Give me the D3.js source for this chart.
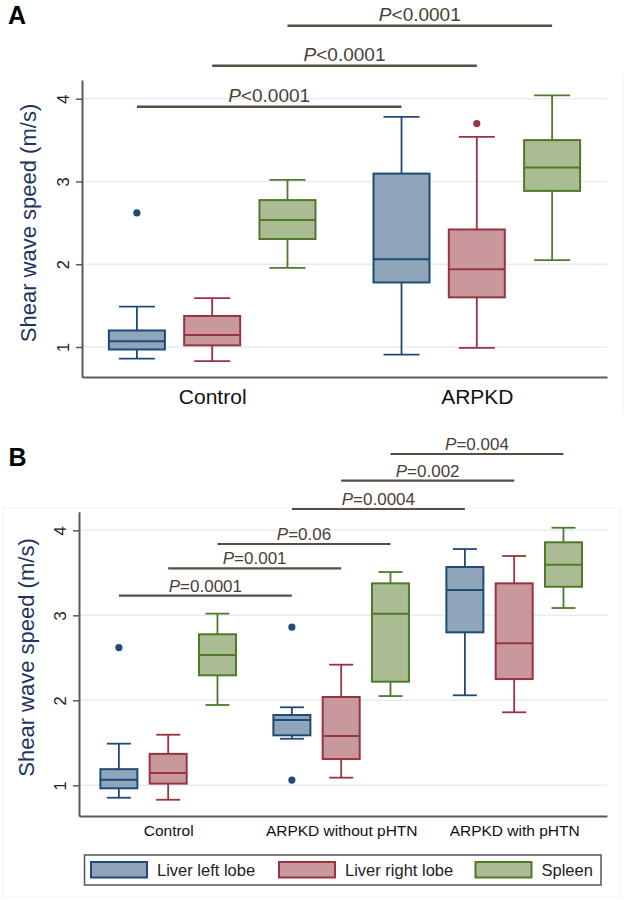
<!DOCTYPE html>
<html><head><meta charset="utf-8">
<script src="https://cdn.jsdelivr.net/npm/d3@7"></script>
<style>
body{margin:0;background:#fff}
svg{display:block;font-family:"Liberation Sans",Arial,sans-serif}
</style>
</head><body>
<svg id="c" width="625" height="900"></svg>
<script>
// ---------- data ----------
const series = ["Liver left lobe", "Liver right lobe", "Spleen"];
const yTicks = [1, 2, 3, 4];

// Panel A (rows = series, columns = groups)
const groupsA = ["Control", "ARPKD"];
const aMin = [[0.86, 0.907], [0.83, 0.99], [1.955, 2.05]];
const aQ1  = [[0.97, 1.78], [1.02, 1.60], [2.305, 2.886]];
const aMed = [[1.07, 2.06], [1.145, 1.94], [2.535, 3.17]];
const aQ3  = [[1.20, 3.095], [1.375, 2.42], [2.775, 3.50]];
const aMax = [[1.487, 3.78], [1.59, 3.54], [3.02, 4.04]];
const aOut = [[[2.62], []], [[], [3.70]], [[], []]];
const aCompSeries = [0, 1, 2];
const aCompFrom = [0, 0, 0];
const aCompTo = [1, 1, 1];
const aCompY = [3.903, 4.399, 4.882];
const aCompOp = ["<", "<", "<"];
const aCompP = ["0.0001", "0.0001", "0.0001"];

// Panel B
const groupsB = ["Control", "ARPKD without pHTN", "ARPKD with pHTN"];
const bMin = [[0.854, 1.548, 2.059], [0.83, 1.09, 1.859], [1.945, 2.05, 3.086]];
const bQ1  = [[0.965, 1.588, 2.80], [1.02, 1.309, 2.25], [2.294, 2.219, 3.336]];
const bMed = [[1.066, 1.768, 3.298], [1.145, 1.58, 2.67], [2.533, 3.019, 3.595]];
const bQ3  = [[1.19, 1.827, 3.568], [1.37, 2.039, 3.376], [2.777, 3.376, 3.859]];
const bMax = [[1.49, 1.918, 3.78], [1.595, 2.419, 3.698], [3.02, 3.509, 4.03]];
const bOut = [[[2.62], [2.862, 1.062], []], [[], [], []], [[], [], []]];
const bCompSeries = [0, 1, 2, 0, 1, 2];
const bCompFrom = [0, 0, 0, 1, 1, 1];
const bCompTo = [1, 1, 1, 2, 2, 2];
const bCompY = [3.231, 3.553, 3.839, 4.251, 4.584, 4.898];
const bCompOp = ["=", "=", "=", "=", "=", "="];
const bCompP = ["0.0001", "0.001", "0.06", "0.0004", "0.002", "0.004"];

// ---------- style ----------
const fills = ["#8fa5ba", "#c9989c", "#abbb94"];
const strokes = ["#1f4a78", "#983440", "#4e7a2a"];
const barColor = "#594d42";
const pTextColor = "#4a4038";

const svg = d3.select("#c");

// faint panel frames
svg.append("line").attr("x1", 623).attr("x2", 623).attr("y1", 73).attr("y2", 414)
  .attr("stroke", "#f1f3f5").attr("stroke-width", 1.2);
svg.append("rect").attr("x", 3).attr("y", 508).attr("width", 617).attr("height", 389)
  .attr("fill", "none").attr("stroke", "#f2f4f6").attr("stroke-width", 1.2);

function panel(o) {
  const g = svg.append("g");
  const x = d3.scalePoint().domain(o.groups).range([o.x0, o.x1]).padding(o.pad).align(o.align);
  const s = d3.scalePoint().domain(series).range([-o.off, o.off]);
  const y = d3.scaleLinear().domain(o.dom).range([o.yBot, o.yTop]);

  // gridlines
  g.append("g").selectAll("line").data(yTicks).join("line")
    .attr("x1", o.x0).attr("x2", o.x1)
    .attr("y1", d => y(d)).attr("y2", d => y(d))
    .attr("stroke", "#e5edf2").attr("stroke-width", 1.6);

  // y axis
  const ya = g.append("g").attr("transform", `translate(${o.x0},0)`)
    .call(d3.axisLeft(y).tickValues(yTicks).tickSize(6).tickSizeOuter(0).tickFormat(d3.format("d")));
  ya.select(".domain").attr("stroke", "#5a5a5a").attr("stroke-width", 2);
  ya.selectAll(".tick line").attr("stroke", "#5a5a5a").attr("stroke-width", 1.5);
  ya.selectAll(".tick text")
    .attr("x", null).attr("dy", null).attr("text-anchor", "middle")
    .attr("transform", "translate(-13.5,0) rotate(-90)")
    .attr("font-size", 16.5).attr("fill", "#222")
    .attr("font-family", "'Liberation Sans',Arial,sans-serif");

  // x axis
  const xa = g.append("g").attr("transform", `translate(0,${o.yBot})`)
    .call(d3.axisBottom(x).tickSize(0).tickSizeOuter(0).tickPadding(o.xPad));
  xa.select(".domain").attr("stroke", "#5a5a5a").attr("stroke-width", 2);
  xa.selectAll(".tick text").attr("font-size", o.xFont).attr("fill", "#111")
    .attr("font-family", "'Liberation Sans',Arial,sans-serif");

  // y title
  g.append("text")
    .attr("transform", `translate(${o.titleX},${o.titleY}) rotate(-90)`)
    .attr("text-anchor", "middle").attr("font-size", 22).attr("fill", "#1e3461")
    .text("Shear wave speed (m/s)");

  // boxes
  const items = [];
  series.forEach((sn, i) => o.groups.forEach((gn, j) => items.push({
    i, cx: x(gn) + s(sn),
    lo: o.mn[i][j], q1: o.q1[i][j], md: o.md[i][j], q3: o.q3[i][j], hi: o.mx[i][j], out: o.out[i][j]
  })));
  const bx = g.append("g").selectAll("g").data(items).join("g");
  bx.append("line").attr("x1", d => d.cx).attr("x2", d => d.cx)
    .attr("y1", d => y(d.hi)).attr("y2", d => y(d.q3))
    .attr("stroke", d => strokes[d.i]).attr("stroke-width", 1.8);
  bx.append("line").attr("x1", d => d.cx).attr("x2", d => d.cx)
    .attr("y1", d => y(d.q1)).attr("y2", d => y(d.lo))
    .attr("stroke", d => strokes[d.i]).attr("stroke-width", 1.8);
  bx.append("line").attr("x1", d => d.cx - o.capW / 2).attr("x2", d => d.cx + o.capW / 2)
    .attr("y1", d => y(d.hi)).attr("y2", d => y(d.hi))
    .attr("stroke", d => strokes[d.i]).attr("stroke-width", 1.8);
  bx.append("line").attr("x1", d => d.cx - o.capW / 2).attr("x2", d => d.cx + o.capW / 2)
    .attr("y1", d => y(d.lo)).attr("y2", d => y(d.lo))
    .attr("stroke", d => strokes[d.i]).attr("stroke-width", 1.8);
  bx.append("rect").attr("x", d => d.cx - o.boxW / 2).attr("width", o.boxW)
    .attr("y", d => y(d.q3)).attr("height", d => y(d.q1) - y(d.q3))
    .attr("fill", d => fills[d.i]).attr("stroke", d => strokes[d.i]).attr("stroke-width", 2);
  bx.append("line").attr("x1", d => d.cx - o.boxW / 2).attr("x2", d => d.cx + o.boxW / 2)
    .attr("y1", d => y(d.md)).attr("y2", d => y(d.md))
    .attr("stroke", d => strokes[d.i]).attr("stroke-width", 2);
  bx.each(function(d) {
    d3.select(this).selectAll("circle").data(d.out).join("circle")
      .attr("cx", d.cx).attr("cy", v => y(v)).attr("r", 3.6)
      .attr("fill", strokes[d.i]);
  });

  // comparison bars
  const comps = o.cSer.map((si, k) => ({
    xa: x(o.groups[o.cFrom[k]]) + s(series[si]),
    xb: x(o.groups[o.cTo[k]]) + s(series[si]),
    yv: o.cY[k], op: o.cOp[k], p: o.cP[k]
  }));
  const cg = g.append("g").selectAll("g").data(comps).join("g");
  cg.append("line").attr("x1", d => d.xa).attr("x2", d => d.xb)
    .attr("y1", d => y(d.yv)).attr("y2", d => y(d.yv))
    .attr("stroke", barColor).attr("stroke-width", o.barW);
  const t = cg.append("text").attr("x", d => (d.xa + d.xb) / 2).attr("y", d => y(d.yv) - o.pGap)
    .attr("text-anchor", "middle").attr("font-size", o.pFont).attr("fill", pTextColor);
  t.append("tspan").attr("font-style", "italic").text("P");
  t.append("tspan").text(d => d.op + d.p);
  return g;
}

panel({
  groups: groupsA, x0: 82, x1: 607, pad: 0.492, align: 0.5, off: 75.3,
  dom: [0.6376, 4.226], yBot: 377, yTop: 80,
  boxW: 56, capW: 36, xPad: 12, xFont: 21, titleX: 36, titleY: 223,
  mn: aMin, q1: aQ1, md: aMed, q3: aQ3, mx: aMax, out: aOut,
  cSer: aCompSeries, cFrom: aCompFrom, cTo: aCompTo, cY: aCompY, cOp: aCompOp, cP: aCompP,
  pFont: 19, pGap: 5, barW: 2.6
});

panel({
  groups: groupsB, x0: 79, x1: 607, pad: 0.526, align: 0.49, off: 49.3,
  dom: [0.639, 4.219], yBot: 816, yTop: 511.7,
  boxW: 37, capW: 24, xPad: 9, xFont: 15.5, titleX: 33.5, titleY: 657.5,
  mn: bMin, q1: bQ1, md: bMed, q3: bQ3, mx: bMax, out: bOut,
  cSer: bCompSeries, cFrom: bCompFrom, cTo: bCompTo, cY: bCompY, cOp: bCompOp, cP: bCompP,
  pFont: 17, pGap: 4, barW: 2.2
});

// panel letters
svg.append("text").attr("x", 8).attr("y", 23.5).attr("font-size", 25).attr("font-weight", "bold")
  .attr("fill", "#000").text("A");
svg.append("text").attr("x", 8.5).attr("y", 466).attr("font-size", 25).attr("font-weight", "bold")
  .attr("fill", "#000").text("B");

// legend
const lg = svg.append("g");
lg.append("rect").attr("x", 84.5).attr("y", 855).attr("width", 516.5).attr("height", 30)
  .attr("fill", "#fff").attr("stroke", "#555").attr("stroke-width", 1.5);
const legX = [91, 279, 475.5];
const li = lg.selectAll("g.item").data(series).join("g").attr("class", "item")
  .attr("transform", (d, i) => `translate(${legX[i]},862)`);
li.append("rect").attr("width", 56).attr("height", 15.5)
  .attr("fill", (d, i) => fills[i]).attr("stroke", (d, i) => strokes[i]).attr("stroke-width", 2);
li.append("text").attr("x", 66).attr("y", 13.8).attr("font-size", 16.5).attr("fill", "#222")
  .text(d => d);
</script>
</body></html>
